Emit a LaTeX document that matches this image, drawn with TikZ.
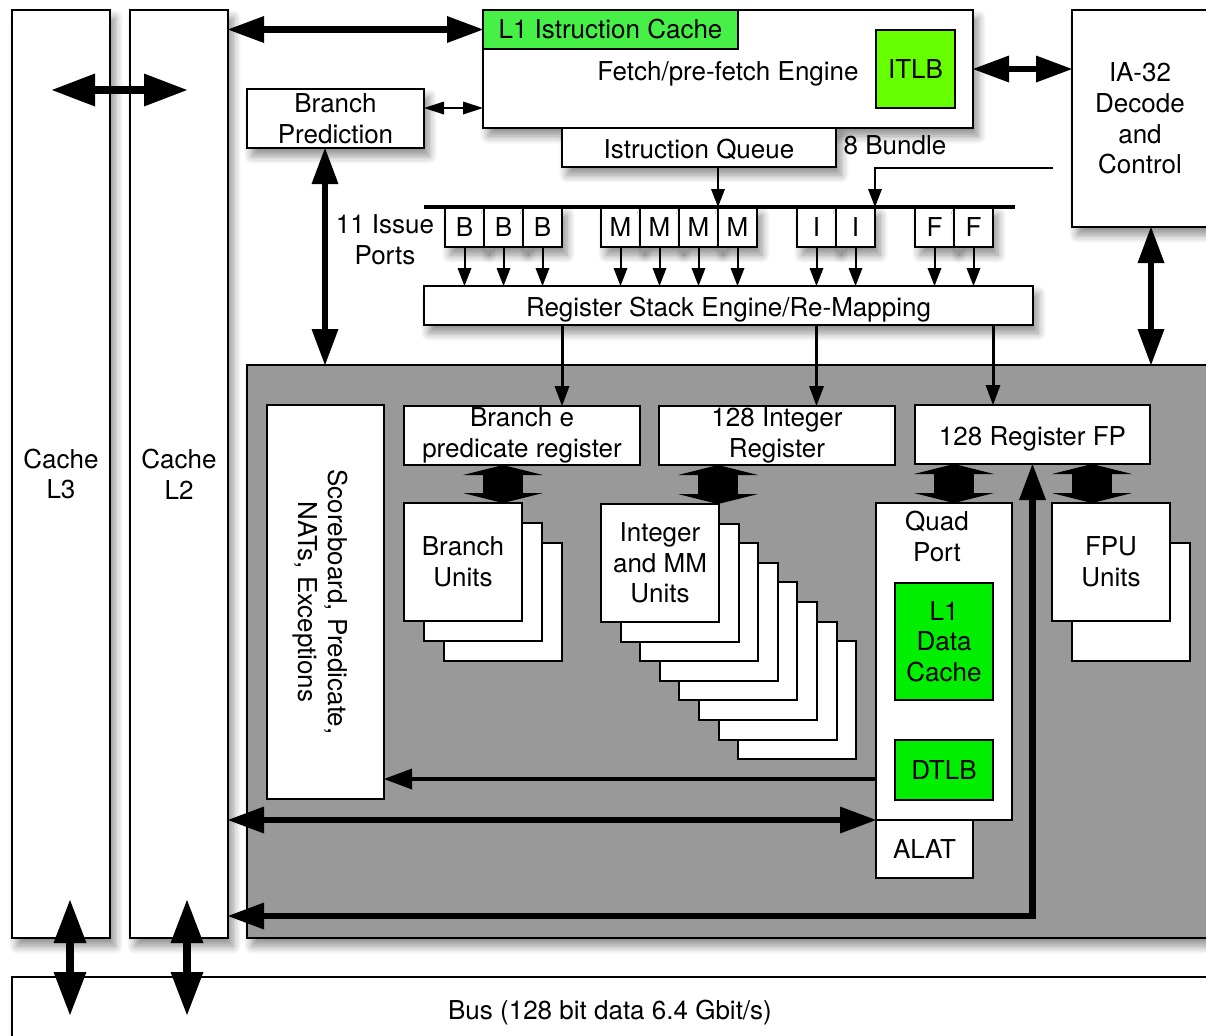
\documentclass[tikz,border=0pt]{standalone}
\usepackage{fontspec}
\setmainfont{TeX Gyre Heros}
\usetikzlibrary{arrows.meta,calc,shadows.blur}
\definecolor{coregray}{RGB}{153,153,153}
\definecolor{icgreen}{RGB}{70,240,70}
\definecolor{itlbgreen}{RGB}{102,255,0}
\definecolor{dgreen}{RGB}{0,238,0}
\begin{document}
\begin{tikzpicture}[x=0.5pt,y=-0.5pt,
  every node/.style={font=\fontsize{13}{15.3}\selectfont, inner sep=0pt, outer sep=0pt},
  flat/.style={draw=black, line width=1pt, fill=white, align=center},
  box/.style={flat, blur shadow={shadow xshift=2.5pt, shadow yshift=-4pt, shadow blur radius=4pt, shadow blur steps=8, shadow opacity=45}},
  oneline/.style={text height=11pt, text depth=0pt},
  port/.style={box, minimum width=19.5pt, minimum height=20pt},
  unit/.style={flat, minimum width=59pt, minimum height=59pt},
  reg/.style={flat, minimum width=118pt, minimum height=29.5pt},
  txt/.style={align=center},
  thickarr/.style={line width=3.25pt, line join=miter, >={Triangle[width=13.5pt,length=18pt,line width=0pt]}},
  bigarr/.style={line width=4pt, >={Triangle[width=16.5pt,length=21.5pt,line width=0pt]}},
  medarr/.style={line width=1.75pt, >={Triangle[width=10.5pt,length=14pt,line width=0pt]}},
  regarr/.style={line width=1.5pt, >={Triangle[width=7.5pt,length=10pt,line width=0pt]}},
  thinarr/.style={line width=1pt, >={Triangle[width=7pt,length=9pt,line width=0pt]}},
  smallarr/.style={line width=1pt, >={Triangle[width=6.5pt,length=10pt,line width=0pt]}},
  fatarr/.style={line width=20pt, {Triangle[width=40pt,length=5pt,line width=0pt]}-{Triangle[width=40pt,length=5pt,line width=0pt]}}
]
\useasboundingbox (0,0) rectangle (1206,1035);

% ---------- outer blocks ----------
\node[box, fill=coregray, minimum width=481.5pt, minimum height=286.5pt] (core) at (728.5,651.5) {};
\node[box, minimum width=49pt, minimum height=464pt] (l3) at (61,474) {Cache\\L3};
\node[box, minimum width=49pt, minimum height=464pt] (l2) at (179,474) {Cache\\L2};
\node[box, oneline, minimum width=598pt, minimum height=31pt] (bus) at (610,1008) {Bus (128 bit data 6.4 Gbit/s)};
\node[box, minimum width=68pt, minimum height=108.5pt] (ia) at (1140,118.5) {IA-32\\Decode\\and\\Control};

\node[box, oneline, minimum width=245pt, minimum height=59pt] (fetch) at (728,69) {Fetch/pre-fetch Engine};
\node[flat, fill=icgreen, minimum width=127.5pt, minimum height=19.5pt] (l1c) at (610.5,29.5) {L1 Istruction Cache};
\node[flat, fill=itlbgreen, minimum width=39.5pt, minimum height=39pt] (itlb) at (915.5,69) {ITLB};

\node[box, minimum width=88.5pt, minimum height=29.5pt] (bp) at (335.5,118.5) {Branch\\Prediction};
\node[box, oneline, minimum width=137pt, minimum height=19.5pt] (iq) at (699,147.5) {Istruction Queue};
\node[txt] (bundle) at (895,145) {8 Bundle};
\node[txt] (issue) at (385,240) {11 Issue\\Ports};

% ---------- issue ports ----------
\foreach \n/\x/\t in {b1/464.5/B,b2/503.5/B,b3/542.5/B,m1/620.5/M,m2/659.5/M,m3/698.5/M,m4/737.5/M,i1/816.5/I,i2/855.5/I,f1/934.5/F,f2/973.5/F}
  \node[port] (\n) at (\x,227) {\t};
\coordinate (bar1) at (424,207);
\coordinate (bar2) at (1015,207);
\draw[line width=1.6pt] (bar1) -- (bar2);

\node[box, oneline, minimum width=304.5pt, minimum height=19.5pt] (rse) at (728.5,305.5) {Register Stack Engine/Re-Mapping};

% ---------- inside the core ----------
\node[flat, minimum width=58.5pt, minimum height=197pt] (sb) at (325.5,602)
  {\rotatebox{-90}{\begin{tabular}{@{}c@{}}Scoreboard, Predicate,\\NATs, Exceptions\end{tabular}}\hspace{6pt}};
\node[reg] (bpr) at (522,435.5) {Branch e\\predicate register};
\node[reg] (intreg) at (777,435.5) {128 Integer\\Register};
\node[reg, oneline, minimum width=117.5pt] (fpreg) at (1032.5,434.5) {128 Register FP};

\foreach \k in {2,1}
  \node[unit] (bu\k) at (463+20*\k,562+20*\k) {};
\node[unit] (bu) at (463,562) {Branch\\Units};

\foreach \k in {7,6,5,4,3,2,1}
  \node[unit] (iu\k) at (660+19.6*\k,563+19.6*\k) {};
\node[unit] (iu) at (660,563) {Integer\\and MM\\Units};

\node[unit] (fu1) at (1131,602) {};
\node[unit] (fu) at (1111,562) {FPU\\Units};

\node[flat, minimum width=68pt, minimum height=158.5pt,
      label={[align=center, anchor=north, xshift=-3.5pt, yshift=-4pt]north:Quad\\Port}] (qp) at (944,661.5) {};
\node[flat, fill=dgreen, minimum width=49pt, minimum height=58.5pt] (l1d) at (944,641.5) {L1\\Data\\Cache};
\node[flat, fill=dgreen, minimum width=49pt, minimum height=30pt] (dtlb) at (944,770) {DTLB};
\node[flat, minimum width=48.5pt, minimum height=29pt] (alat) at (924.5,849) {ALAT};

% ---------- fat register/unit arrows ----------
\coordinate (fa1) at (503,0);
\coordinate (fa2) at (718,0);
\coordinate (fa3) at (954,0);
\coordinate (fa4) at (1092,0);
\draw[fatarr] (bpr.south -| fa1) -- (bu.north -| fa1);
\draw[fatarr] (intreg.south -| fa2) -- (iu.north -| fa2);
\draw[fatarr] (fpreg.south -| fa3) -- (qp.north -| fa3);
\draw[fatarr] (fpreg.south -| fa4) -- (fu.north -| fa4);

% ---------- connectors ----------
\draw[thickarr,<->] (l2.east |- l1c.west) -- (l1c.west);
\draw[thickarr,<->] (fetch.east) -- (ia.west |- fetch.east);
\coordinate (bpy) at (0,108);
\draw[smallarr,<->] (bp.east |- bpy) -- (fetch.west |- bpy);
\coordinate (bpx) at (325,0);
\draw[thickarr,<->] (bp.south -| bpx) -- (core.north -| bpx);
\coordinate (iax) at (1151,0);
\draw[thickarr,<->] (ia.south -| iax) -- (core.north -| iax);

\coordinate (h1) at (52,90);
\coordinate (h2) at (187,90);
\draw[bigarr,<->] (h1) -- (h2);
\coordinate (c3t) at (70,900);
\coordinate (c3b) at (70,1015);
\coordinate (c2t) at (187,900);
\coordinate (c2b) at (187,1015);
\draw[bigarr,<->] (c3t) -- (c3b);
\draw[bigarr,<->] (c2t) -- (c2b);

\draw[thinarr,->] (iq.south -| m4.west) -- (m4.north west);
\coordinate (iafeed) at (1053,168);
\draw[thinarr,->] (iafeed) -- (iafeed -| i2.east) -- (i2.north east);

\foreach \n in {b1,b2,b3,m1,m2,m3,m4,i1,i2,f1,f2}
  \draw[thinarr,->] (\n.south) -- (\n.south |- rse.north);

\draw[regarr,->] (rse.south -| b3.east) -- (bpr.north -| b3.east);
\draw[regarr,->] (rse.south -| i1.south) -- (intreg.north -| i1.south);
\draw[regarr,->] (rse.south -| f2.east) -- (fpreg.north -| f2.east);

\coordinate (cb) at (1032.5,916);
\draw[thickarr,<->] (l2.east |- cb) -- (cb) -- (fpreg.south);
\coordinate (qs) at (876,779);
\draw[medarr,->] (qp.west |- qs) -- (sb.east |- qs);
\draw[thickarr,<->] (l2.east |- qp.south west) -- (qp.south west);

\end{tikzpicture}
\end{document}
